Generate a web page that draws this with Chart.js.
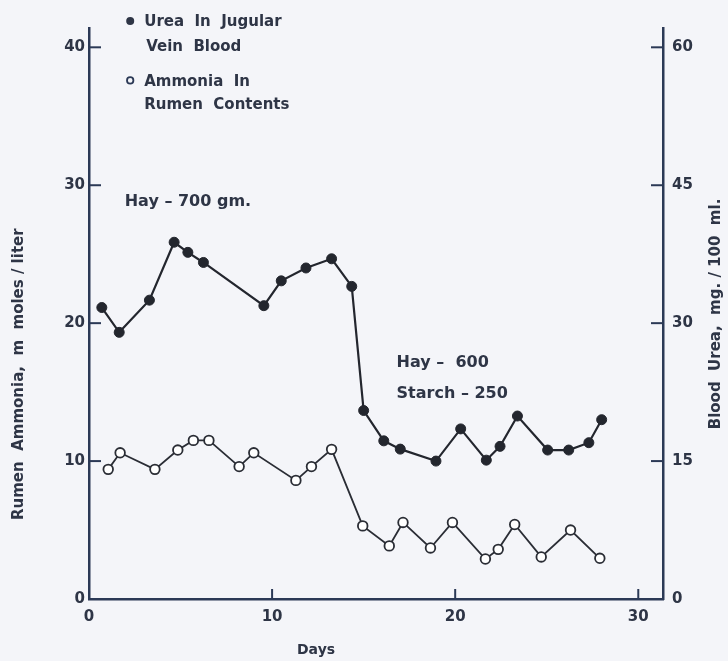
<!DOCTYPE html>
<html>
<head>
<meta charset="utf-8">
<script src="https://cdn.jsdelivr.net/npm/chart.js@4.4.1/dist/chart.umd.min.js"></script>
<style>
    html, body { margin: 0; padding: 0; background: #f4f5f9; }
    #wrap { width: 728px; height: 661px; position: relative; }
</style>
</head>
<body>
<div id="wrap"><canvas id="ureaChart" width="728" height="661"></canvas></div>
<script>
// Days of sampling and values
const ureaDays = [0.7, 1.65, 3.3, 4.65, 5.4, 6.25, 9.55, 10.5, 11.85, 13.25, 14.35, 15.0, 16.1, 17.0, 18.95, 20.3, 21.7, 22.45, 23.4, 25.05, 26.2, 27.3, 28.0];
const ureaValues = [31.7, 29.0, 32.5, 38.8, 37.7, 36.6, 31.9, 34.6, 36.0, 37.0, 34.0, 20.5, 17.2, 16.3, 15.0, 18.5, 15.1, 16.6, 19.9, 16.2, 16.2, 17.0, 19.5];

const ammoniaDays = [1.05, 1.7, 3.6, 4.85, 5.7, 6.55, 8.2, 9.0, 11.3, 12.15, 13.25, 14.95, 16.4, 17.15, 18.65, 19.85, 21.65, 22.35, 23.25, 24.7, 26.3, 27.9];
const ammoniaValues = [9.4, 10.6, 9.4, 10.8, 11.5, 11.5, 9.6, 10.6, 8.6, 9.6, 10.85, 5.3, 3.85, 5.55, 3.7, 5.55, 2.9, 3.6, 5.4, 3.05, 5.0, 2.95];

const dayTicks = [0, 10, 20, 30];
const ammoniaTicks = [0, 10, 20, 30, 40];
const ureaTicks = [0, 15, 30, 45, 60];

const legendLines = [
    ['Urea  In  Jugular', 'Vein  Blood'],
    ['Ammonia  In', 'Rumen  Contents']
];
const hayNote = 'Hay – 700 gm.';
const starchNote = ['Hay –  600', 'Starch – 250'];

const ink = '#2e3546';
const axisInk = '#2b3956';
const font = 'DejaVu Sans';

function toPoints(xs, ys) {
    return xs.map((x, i) => ({ x: x, y: ys[i] }));
}

function fixedTicks(values) {
    return scale => { scale.ticks = values.map(v => ({ value: v })); };
}

// inward tick marks, legend, notes and axis titles
const decorations = {
    id: 'decorations',
    afterDraw(chart) {
        const ctx = chart.ctx;
        const x = chart.scales.x;
        const yl = chart.scales.y;
        const yr = chart.scales.y1;
        const area = chart.chartArea;

        ctx.save();
        ctx.strokeStyle = axisInk;
        ctx.lineWidth = 2;
        ammoniaTicks.slice(1).forEach(v => {
            const py = yl.getPixelForValue(v);
            ctx.beginPath(); ctx.moveTo(area.left, py); ctx.lineTo(area.left + 12, py); ctx.stroke();
        });
        ureaTicks.slice(1).forEach(v => {
            const py = yr.getPixelForValue(v);
            ctx.beginPath(); ctx.moveTo(area.right, py); ctx.lineTo(area.right - 12, py); ctx.stroke();
        });
        dayTicks.slice(1).forEach(v => {
            const px = x.getPixelForValue(v);
            ctx.beginPath(); ctx.moveTo(px, area.bottom); ctx.lineTo(px, area.bottom - 10); ctx.stroke();
        });

        ctx.fillStyle = ink;
        ctx.textBaseline = 'middle';
        ctx.textAlign = 'left';

        // legend
        ctx.font = 'bold 15px "' + font + '"';
        const lx = x.getPixelForValue(2.25);
        ctx.beginPath(); ctx.arc(lx, yl.getPixelForValue(41.9), 4, 0, Math.PI * 2); ctx.fill();
        ctx.fillText(legendLines[0][0], lx + 14, yl.getPixelForValue(41.8));
        ctx.fillText(legendLines[0][1], lx + 16, yl.getPixelForValue(40.0));
        ctx.beginPath(); ctx.lineWidth = 1.8;
        ctx.arc(lx, yl.getPixelForValue(37.6), 3.2, 0, Math.PI * 2); ctx.stroke();
        ctx.fillText(legendLines[1][0], lx + 14, yl.getPixelForValue(37.5));
        ctx.fillText(legendLines[1][1], lx + 14, yl.getPixelForValue(35.8));

        // diet notes
        ctx.font = 'bold 16px "' + font + '"';
        ctx.fillText(hayNote, x.getPixelForValue(1.95), yl.getPixelForValue(28.8));
        ctx.fillText(starchNote[0], x.getPixelForValue(16.8), yl.getPixelForValue(17.1));
        ctx.fillText(starchNote[1], x.getPixelForValue(16.8), yl.getPixelForValue(14.9));

        // axis titles
        ctx.textAlign = 'center';
        ctx.font = 'bold 14px "' + font + '"';
        ctx.fillText('Days', x.getPixelForValue(12.4), 650);
        ctx.font = 'bold 15px "' + font + '"';
        ctx.save();
        ctx.translate(19, yl.getPixelForValue(16.3));
        ctx.rotate(-Math.PI / 2);
        ctx.fillText('Rumen  Ammonia,  m  moles / liter', 0, 0);
        ctx.restore();
        ctx.save();
        ctx.translate(716, yr.getPixelForValue(31));
        ctx.rotate(-Math.PI / 2);
        ctx.fillText('Blood  Urea,  mg. / 100  ml.', 0, 0);
        ctx.restore();
        ctx.restore();
    }
};

const tickFont = { family: font, size: 15, weight: 'bold' };

new Chart(document.getElementById('ureaChart').getContext('2d'), {
    type: 'line',
    data: {
        datasets: [{
            label: 'Urea In Jugular Vein Blood',
            data: toPoints(ureaDays, ureaValues),
            yAxisID: 'y1',
            borderColor: '#23262e',
            backgroundColor: '#23262e',
            borderWidth: 2.2,
            pointRadius: 5,
            pointBorderWidth: 1,
            tension: 0
        }, {
            label: 'Ammonia In Rumen Contents',
            data: toPoints(ammoniaDays, ammoniaValues),
            yAxisID: 'y',
            borderColor: '#2a2d35',
            backgroundColor: '#ffffff',
            borderWidth: 1.8,
            pointRadius: 4.8,
            pointBorderWidth: 1.8,
            tension: 0
        }]
    },
    options: {
        responsive: false,
        animation: false,
        events: [],
        layout: { padding: { top: 28, left: 0, right: 0, bottom: 0 } },
        plugins: {
            legend: { display: false },
            tooltip: { enabled: false }
        },
        scales: {
            x: {
                type: 'linear',
                min: 0,
                max: 31.35,
                afterBuildTicks: fixedTicks(dayTicks),
                afterFit: s => { s.height = 62; },
                grid: { display: false, drawTicks: false },
                border: { display: true, color: axisInk, width: 2.5 },
                ticks: { color: ink, font: tickFont, padding: 9 }
            },
            y: {
                position: 'left',
                min: 0,
                max: 41.4,
                afterBuildTicks: fixedTicks(ammoniaTicks),
                afterFit: s => { s.width = 89; },
                grid: { display: false, drawTicks: false },
                border: { display: true, color: axisInk, width: 2.5 },
                ticks: { color: ink, font: tickFont, padding: 4 }
            },
            y1: {
                position: 'right',
                min: 0,
                max: 62.1,
                afterBuildTicks: fixedTicks(ureaTicks),
                afterFit: s => { s.width = 65; },
                grid: { display: false, drawTicks: false },
                border: { display: true, color: axisInk, width: 2.5 },
                ticks: { color: ink, font: tickFont, padding: 9 }
            }
        }
    },
    plugins: [decorations]
});
</script>
</body>
</html>
